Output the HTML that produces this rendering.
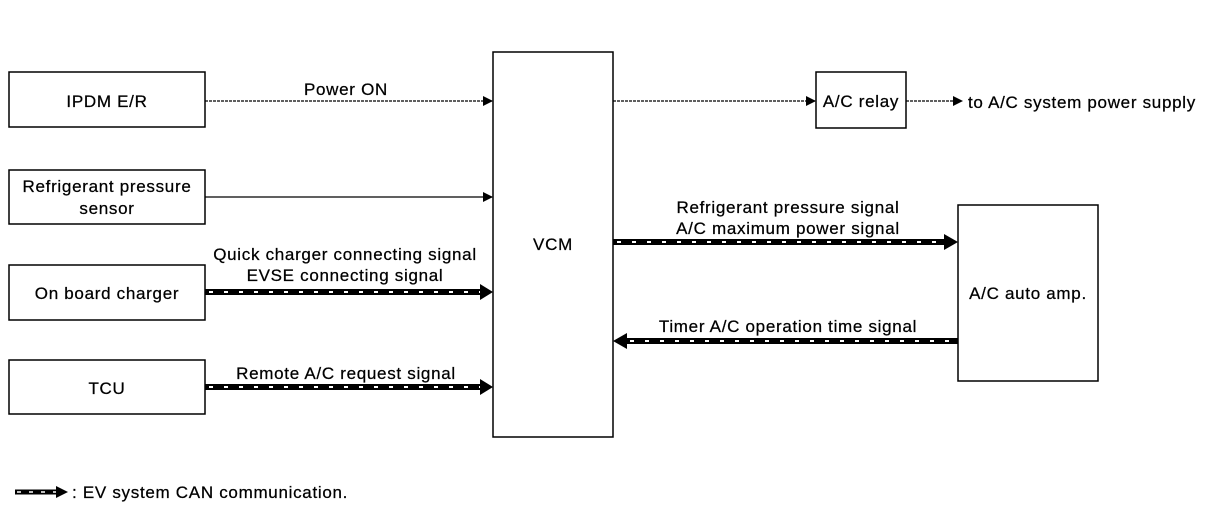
<!DOCTYPE html>
<html><head><meta charset="utf-8"><style>
html,body{margin:0;padding:0;background:#fff;}
svg text{font-family:"Liberation Sans",Arial,sans-serif;font-size:17px;letter-spacing:0.7px;fill:#000;stroke:#000;stroke-width:0.25;}
</style></head><body>
<svg width="1216" height="512" viewBox="0 0 1216 512" xmlns="http://www.w3.org/2000/svg">
<defs>
<marker id="a" markerWidth="10" markerHeight="10" refX="9" refY="5" orient="auto" markerUnits="userSpaceOnUse"><path d="M0,0 L10,5 L0,10z" fill="#000"/></marker>
</defs>
<g fill="none" stroke="#000" stroke-width="1.5">
<rect x="9" y="72" width="196" height="55"/>
<rect x="9" y="170" width="196" height="54"/>
<rect x="9" y="265" width="196" height="55"/>
<rect x="9" y="360" width="196" height="54"/>
<rect x="493" y="52" width="120" height="385"/>
<rect x="816" y="72" width="90" height="56"/>
<rect x="958" y="205" width="140" height="176"/>
</g>
<g stroke="#000" stroke-width="1.3" fill="none">
<line x1="205" y1="101" x2="492" y2="101" stroke-dasharray="3 1" marker-end="url(#a)"/>
<line x1="205" y1="197" x2="492" y2="197" marker-end="url(#a)"/>
<line x1="613" y1="101" x2="815" y2="101" stroke-dasharray="3 1" marker-end="url(#a)"/>
<line x1="906" y1="101" x2="962" y2="101" stroke-dasharray="3 1" marker-end="url(#a)"/>
</g>
<g>
<line x1="205" y1="292" x2="482" y2="292" stroke="#000" stroke-width="6"/>
<line x1="209" y1="292" x2="482" y2="292" stroke="#fff" stroke-width="2" stroke-dasharray="4 11"/>
<path d="M480,284 L493,292 L480,300z" fill="#000"/>
<line x1="205" y1="387" x2="482" y2="387" stroke="#000" stroke-width="6"/>
<line x1="209" y1="387" x2="482" y2="387" stroke="#fff" stroke-width="2" stroke-dasharray="4 11"/>
<path d="M480,379 L493,387 L480,395z" fill="#000"/>
<line x1="613" y1="242" x2="946" y2="242" stroke="#000" stroke-width="6"/>
<line x1="617" y1="242" x2="946" y2="242" stroke="#fff" stroke-width="2" stroke-dasharray="4 11"/>
<path d="M944,234 L958,242 L944,250z" fill="#000"/>
<line x1="626" y1="341" x2="958" y2="341" stroke="#000" stroke-width="6"/>
<line x1="630" y1="341" x2="958" y2="341" stroke="#fff" stroke-width="2" stroke-dasharray="4 11"/>
<path d="M627,333 L613,341 L627,349z" fill="#000"/>
<line x1="15" y1="492" x2="58" y2="492" stroke="#000" stroke-width="5"/>
<line x1="17" y1="492" x2="58" y2="492" stroke="#fff" stroke-width="1.5" stroke-dasharray="4 8"/>
<path d="M56,486 L68,492 L56,498z" fill="#000"/>
</g>
<g text-anchor="middle">
<text x="107" y="107">IPDM E/R</text>
<text x="107" y="192">Refrigerant pressure</text>
<text x="107" y="214">sensor</text>
<text x="107" y="299">On board charger</text>
<text x="107" y="394">TCU</text>
<text x="553" y="250">VCM</text>
<text x="861" y="107">A/C relay</text>
<text x="1028" y="299">A/C auto amp.</text>
<text x="346" y="95">Power ON</text>
<text x="345" y="260">Quick charger connecting signal</text>
<text x="345" y="281">EVSE connecting signal</text>
<text x="346" y="379">Remote A/C request signal</text>
<text x="788" y="213">Refrigerant pressure signal</text>
<text x="788" y="234">A/C maximum power signal</text>
<text x="788" y="332">Timer A/C operation time signal</text>
</g>
<text x="968" y="108">to A/C system power supply</text>
<text x="72" y="498">: EV system CAN communication.</text>
</svg>
</body></html>
